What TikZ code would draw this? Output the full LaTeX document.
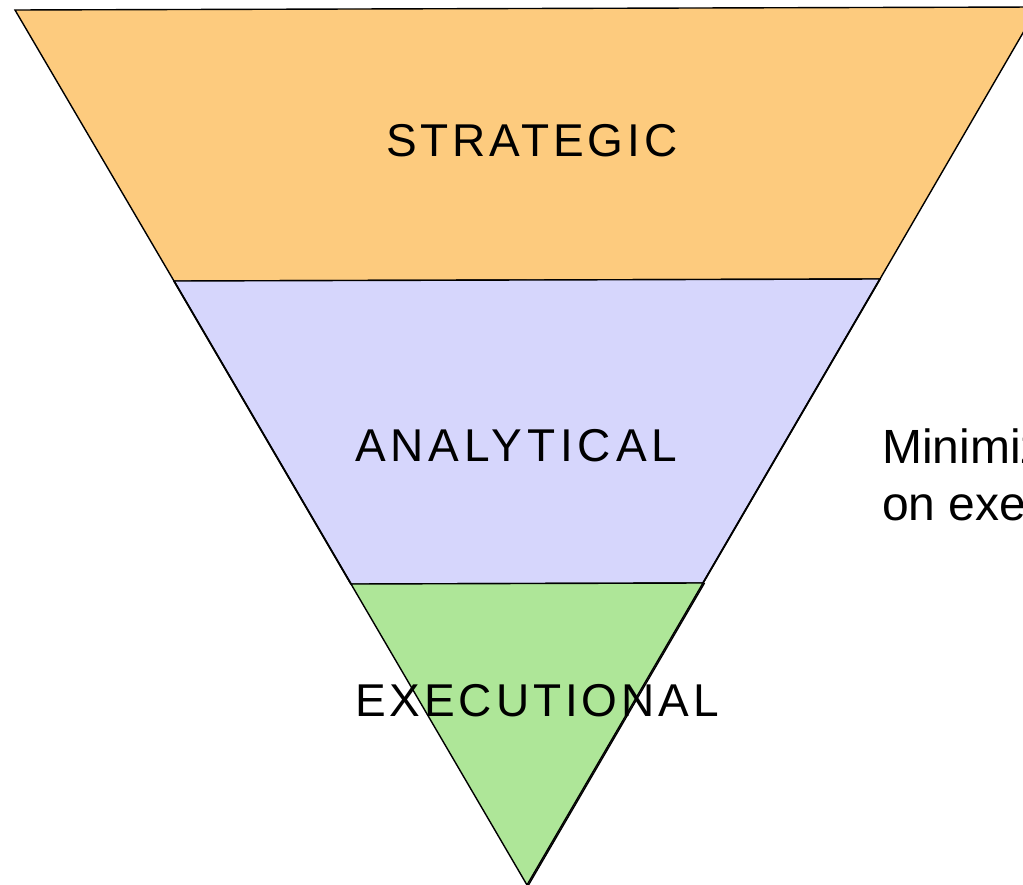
\documentclass[tikz,border=0pt]{standalone}
\usepackage{fontspec}
\setmainfont{Liberation Sans}
\newfontfamily\lblfont[LetterSpace=8.5]{Liberation Sans}
\newfontfamily\lblwidefont[LetterSpace=10.7]{Liberation Sans}
\definecolor{stratfill}{RGB}{253,203,126}
\definecolor{analfill}{RGB}{214,214,252}
\definecolor{execfill}{RGB}{174,230,152}
\begin{document}
\begin{tikzpicture}[x=1pt,y=-1pt,
  band/.style={draw=black,line width=1.4pt,line join=miter},
  lbl/.style={anchor=base west,inner sep=0pt,font=\fontsize{46}{50}\lblfont},
  note/.style={anchor=base west,inner sep=0pt,font=\fontsize{48}{57}\selectfont,align=left}]
\useasboundingbox (0,0) rectangle (1023,885);
\clip (0,0) rectangle (1023,885);
% corners
\coordinate (tl) at (15,10);
\coordinate (tr) at (1038,7);
\coordinate (sl) at (174,281);
\coordinate (sr) at (880,279);
\coordinate (al) at (351,584);
\coordinate (ar) at (703,583);
\coordinate (apex) at (527,885);
% bands
\path[band,fill=stratfill] (tl) -- (tr) -- (sr) -- (sl) -- cycle;
\path[band,fill=analfill] (sl) -- (sr) -- (ar) -- (al) -- cycle;
\path[band,fill=execfill] (al) -- (ar) -- (apex) -- cycle;
% outer edges (slightly heavier)
\draw[line width=1.8pt] (sl) -- (al);
\draw[line width=1.8pt] (sr) -- (ar);
\draw[line width=1.4pt] ([xshift=1.5pt]ar) -- ([xshift=1.5pt]apex);
% labels
\node[lbl] (strategic) at (386,157) {STRATEGIC};
\node[lbl,font=\fontsize{46}{50}\lblwidefont] (analytical) at (355,461) {ANALYTICAL};
\node[lbl] (executional) at (355,716) {EXECUTIONAL};
\node[note] (minimize) at (882,520) {Minimize\\on execution};
\end{tikzpicture}
\end{document}
